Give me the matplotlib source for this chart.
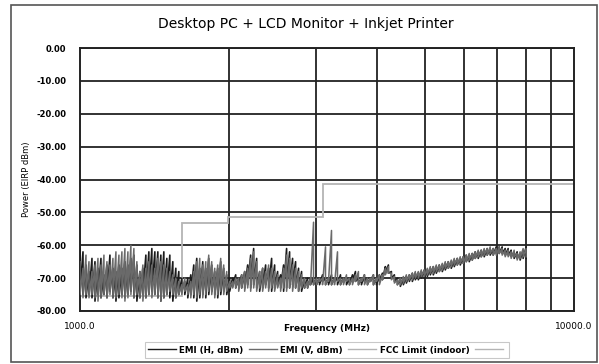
import numpy as np
import matplotlib.pyplot as plt
from matplotlib.lines import Line2D
from matplotlib.patches import Rectangle
from matplotlib.ticker import FixedLocator, NullFormatter

# sweep: 150 bins, log-spaced between start and stop (peak / floor per bin)
sweep_start, sweep_stop, sweep_points = 1000.0, 8000.0, 150
freq = np.geomspace(sweep_start, sweep_stop, sweep_points)

emi_h_peak = [
    -61, -62, -66, -68, -64, -65, -67, -64, -69, -66,
    -63, -67, -68, -66, -67, -65, -66, -64, -63, -66,
    -68, -67, -63, -62, -61, -62, -62, -63, -62, -64,
    -63, -65, -67, -68, -70, -71, -70, -69, -66, -64,
    -67, -65, -67, -64, -66, -68, -67, -65, -67, -69,
    -70, -70, -69, -70, -69, -68, -66, -63, -61, -64,
    -68, -67, -66, -67, -64, -66, -68, -69, -66, -61,
    -62, -64, -65, -67, -68, -70, -70, -70, -70, -70,
    -70, -69, -70, -70, -69, -70, -70, -69, -70, -70,
    -70, -69, -68, -70, -70, -69, -70, -70, -69, -70,
    -69, -68.5, -66.5, -66, -68, -69, -70, -70.5, -70, -69.5,
    -69, -68.5, -68.5, -68.5, -68, -67.5, -67.5, -67, -66.5, -66.5,
    -66, -66, -65.5, -65, -65, -64.5, -64, -64, -63.5, -63,
    -63, -62.5, -62, -62, -61.5, -61.5, -61, -61, -61, -60.5,
    -60.5, -60.5, -61, -61, -61.5, -62, -62, -62.5, -61.5, -60.5,
]
emi_h_floor = [
    -74, -75, -76, -75, -76, -77, -75, -76, -75, -76,
    -74, -76, -77, -76, -75, -76, -75, -74, -76, -77,
    -76, -75, -76, -75, -74, -75, -76, -77, -76, -75,
    -76, -77, -76, -75, -74, -75, -76, -75, -76, -77,
    -76, -75, -76, -75, -74, -75, -76, -75, -74, -75,
    -74, -72, -73, -72, -73, -73, -72, -73, -72, -73,
    -74, -73, -72, -73, -74, -73, -72, -73, -74, -73,
    -73, -72, -73, -74, -74, -73, -73, -72, -72, -72,
    -72, -71, -72, -72, -72, -71, -72, -72, -71, -72,
    -72, -71, -71, -72, -72, -71, -72, -71, -72, -72,
    -71, -70.5, -68.5, -68.5, -70, -71, -72, -72.5, -72, -71.5,
    -71, -71, -70.5, -70.5, -70, -70, -69.5, -69, -69, -68.5,
    -68, -68, -67.5, -67, -67, -66.5, -66, -66, -65.5, -65,
    -65, -64.5, -64, -64, -63.5, -63.5, -63, -63, -63, -62.5,
    -62.5, -62.5, -63, -63, -63.5, -64, -64, -64.5, -64, -64,
]

emi_v_peak = [
    -65, -67, -63, -65, -68, -66, -64, -66, -63, -65,
    -66, -64, -62, -63, -62, -61, -62, -60, -61, -65,
    -68, -66, -67, -65, -66, -67, -64, -65, -66, -67,
    -68, -69, -70, -71, -72, -70, -72, -71, -68, -65,
    -64, -66, -65, -63, -65, -67, -66, -64, -66, -68,
    -71, -71, -70, -70, -69, -68, -67, -64, -62, -65,
    -68, -67, -68, -66, -67, -68, -69, -70, -67, -63,
    -64, -66, -67, -68, -69, -70, -71, -70, -53, -70,
    -70, -70, -60.5, -70, -55.5, -70, -62, -70, -70, -69,
    -70, -70, -69, -68, -70, -69, -70, -70, -69, -70,
    -69, -69, -67, -66.5, -68.5, -69.5, -70.5, -70, -69.5, -69,
    -69, -68.5, -68, -68, -67.5, -67.5, -67, -66.5, -66.5, -66,
    -66, -65.5, -65, -65, -64.5, -64, -64, -63.5, -63.5, -63,
    -62.5, -62.5, -62, -61.5, -61.5, -61, -61, -60.5, -61, -61,
    -60.5, -61, -61.5, -61.5, -62, -61.5, -62.5, -62, -61, -61,
]
emi_v_floor = [
    -75, -76, -75, -76, -75, -76, -77, -76, -75, -76,
    -75, -76, -76, -75, -76, -77, -76, -75, -76, -75,
    -76, -77, -76, -75, -76, -75, -76, -77, -76, -75,
    -74, -75, -76, -75, -75, -74, -75, -76, -75, -76,
    -75, -76, -75, -74, -75, -76, -75, -74, -75, -74,
    -73, -73, -73, -74, -73, -74, -73, -74, -73, -74,
    -73, -74, -73, -74, -73, -74, -73, -74, -73, -74,
    -73, -74, -73, -74, -73, -73, -73, -72, -72, -72,
    -71, -72, -72, -71, -72, -72, -71, -72, -72, -71,
    -72, -72, -71, -72, -71, -72, -72, -71, -72, -71,
    -72, -70.5, -69, -68.5, -70.5, -71.5, -72, -72, -71.5, -71,
    -70.5, -70.5, -70, -70, -69.5, -69.5, -69, -68.5, -68.5, -68,
    -68, -67.5, -67, -67, -66.5, -66, -66, -65.5, -65.5, -65,
    -64.5, -64.5, -64, -63.5, -63.5, -63, -63, -62.5, -63, -63,
    -62.5, -63, -63.5, -63.5, -64, -63.5, -64.5, -64, -63.5, -63.5,
]

# FCC indoor UWB emission mask
fcc_edges = [960, 1610, 1990, 3100, 10600]
fcc_limit = [-75.3, -53.3, -51.3, -41.3]

title = "Desktop PC + LCD Monitor + Inkjet Printer"
y_ticks = [0, -10, -20, -30, -40, -50, -60, -70, -80]
x_minor = [2000, 3000, 4000, 5000, 6000, 7000, 8000, 9000]


def trace(peak, floor):
    # draw each bin as a stroke from its peak down to its floor
    x = np.repeat(freq, 2)
    y = np.column_stack([peak, floor]).ravel()
    return x, y


fig = plt.figure(figsize=(5.99, 3.64), dpi=100)
fig.patches.append(Rectangle((11 / 599, 2 / 364), 586 / 599, 357 / 364,
                             transform=fig.transFigure, fill=False,
                             edgecolor="#555555", linewidth=1.2))

ax = fig.add_axes([80 / 599, 1 - 311 / 364, 494 / 599, 263 / 364])
ax.set_xscale("log")
ax.set_xlim(1000, 10000)
ax.set_ylim(-80, 0)

grid_col = "#222222"
for y in y_ticks:
    ax.axhline(y, color=grid_col, lw=1.3, zorder=1)
for x in x_minor:
    ax.axvline(x, color=grid_col, lw=1.3, zorder=1)

h_col, v_col, fcc_col = "#1c1c1c", "#6a6a6a", "#b4b4b4"
ax.plot(*trace(emi_h_peak, emi_h_floor), color=h_col, lw=1.2, zorder=3)
ax.plot(*trace(emi_v_peak, emi_v_floor), color=v_col, lw=1.1, zorder=4)
ax.stairs(fcc_limit, fcc_edges, baseline=None, color=fcc_col, lw=1.3, zorder=2)

for s in ax.spines.values():
    s.set_color(grid_col)
    s.set_linewidth(1.4)

ax.set_yticks(y_ticks)
ax.set_yticklabels([f"{v:.2f}" for v in y_ticks], fontsize=6, fontweight="bold")
ax.xaxis.set_major_locator(FixedLocator([1000, 10000]))
ax.set_xticklabels(["1000.0", "10000.0"], fontsize=6.5)
ax.xaxis.set_minor_locator(FixedLocator(x_minor))
ax.xaxis.set_minor_formatter(NullFormatter())
ax.tick_params(axis="both", which="both", length=0)
ax.tick_params(axis="x", pad=8)
ax.tick_params(axis="y", pad=10)

ax.set_ylabel("Power (EIRP dBm)", fontsize=6, labelpad=4)
ax.set_xlabel("Frequency (MHz)", fontsize=6.5, fontweight="bold", labelpad=-5)
fig.text(306 / 599, 1 - 24 / 364, title, ha="center", va="center", fontsize=10,
         fontweight="medium")

handles = [Line2D([], [], color=h_col, lw=1),
           Line2D([], [], color=v_col, lw=1),
           Line2D([], [], color=fcc_col, lw=1),
           Line2D([], [], color=fcc_col, lw=1)]
labels = ["EMI (H, dBm)", "EMI (V, dBm)", "FCC Limit (indoor)", ""]
leg = fig.legend(handles, labels, loc="center", bbox_to_anchor=(327 / 599, 1 - 350 / 364),
                 ncol=4, frameon=True, fancybox=False,
                 handlelength=3.2, handletextpad=0.4, columnspacing=0.6,
                 borderpad=0.35, prop={"weight": "bold", "size": 6.3})
leg.get_frame().set_edgecolor("#bbbbbb")
leg.get_frame().set_linewidth(0.8)

fig.savefig("out.png", dpi=100)
